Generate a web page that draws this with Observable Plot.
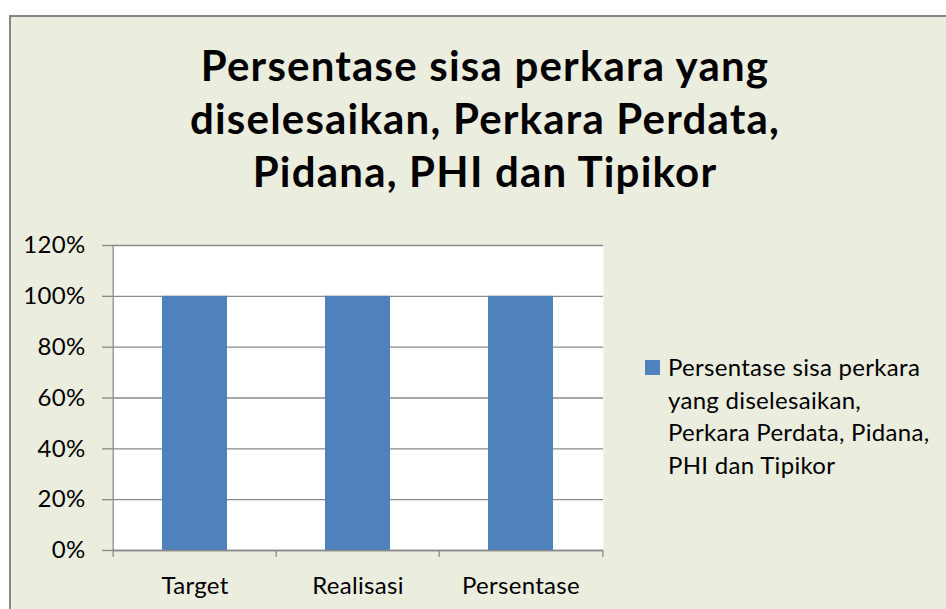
<!DOCTYPE html>
<html><head><meta charset="utf-8">
<script src="https://cdn.jsdelivr.net/npm/d3@7"></script>
<script src="https://cdn.jsdelivr.net/npm/@observablehq/plot@0.6"></script>
<style>
html,body{margin:0;padding:0;background:#fff;}
body{width:946px;height:609px;position:relative;overflow:hidden;font-family:Lato,sans-serif;color:#000;}
#box{position:absolute;left:9px;top:15px;width:960px;height:620px;background:#ebedde;border-left:2px solid #858585;border-top:2px solid #858585;}
#title{position:absolute;left:0;top:39px;width:970px;text-align:center;font-weight:700;font-size:42px;line-height:53px;letter-spacing:1.2px;}
#chart{position:absolute;left:0;top:225px;}
#legend{position:absolute;left:645px;top:351px;}
#legend .sw{position:absolute;left:0;top:9px;width:15px;height:15px;background:#4f81bd;}
#legend .tx{position:absolute;left:23px;top:0;font-size:24px;line-height:32.7px;letter-spacing:0.3px;white-space:nowrap;}
</style></head>
<body>
<div id="box"></div>
<div id="title"></div>
<div id="chart"></div>
<div id="legend"><div class="sw"></div><div class="tx"></div></div>
<script>
const titleLines = ["Persentase sisa perkara yang", "diselesaikan, Perkara Perdata,", "Pidana, PHI dan Tipikor"];
const categories = ["Target", "Realisasi", "Persentase"];
const values = [1.0, 1.0, 1.0];
const yTicks = [0, 0.2, 0.4, 0.6, 0.8, 1.0, 1.2];
const legendLines = ["Persentase sisa perkara", "yang diselesaikan,", "Perkara Perdata, Pidana,", "PHI dan Tipikor"];
const barColor = "#4f81bd";

document.getElementById("title").innerHTML = titleLines.join("<br>");
document.querySelector("#legend .sw").style.background = barColor;
document.querySelector("#legend .tx").innerHTML = legendLines.join("<br>");

const W = 620, H = 384, mL = 112, mR = 17, mT = 20, mB = 59;
const step = (W - mL - mR) / categories.length;
const data = categories.map((c, i) => ({cat: c, value: values[i]}));
const grid = "#8a8a8a";
const fmt = d => Math.round(d * 100) + "%";

const chart = Plot.plot({
  width: W, height: H,
  marginLeft: mL, marginRight: mR, marginTop: mT, marginBottom: mB,
  style: {background: "transparent", fontFamily: "Lato, sans-serif", fontSize: "24px", letterSpacing: "0.3px", color: "#000", overflow: "visible"},
  x: {domain: categories, paddingInner: 0.6, paddingOuter: 0.3, label: null, axis: null},
  y: {domain: [0, 1.2], label: null, axis: null},
  marks: [
    Plot.frame({fill: "white", stroke: "none"}),
    Plot.ruleY(yTicks, {stroke: grid, strokeWidth: 1.3}),
    Plot.barY(data, {x: "cat", y: "value", fill: barColor}),
    Plot.ruleY([0], {stroke: grid, strokeWidth: 1.3}),
    Plot.ruleX([categories[0]], {dx: -step / 2, stroke: grid, strokeWidth: 1.3}),
    Plot.axisY(yTicks, {tickSize: 10, tickPadding: 17, tickFormat: fmt, stroke: grid, strokeWidth: 1.3, fontSize: 24, label: null, fill: "#000"}),
    Plot.axisX(categories, {tickSize: 7, tickFormat: () => "", dx: -step / 2, stroke: grid, strokeWidth: 1.3, label: null}),
    Plot.axisX([categories[categories.length - 1]], {tickSize: 7, tickFormat: () => "", dx: step / 2, stroke: grid, strokeWidth: 1.3, label: null}),
    Plot.axisX(categories, {tickSize: 0, tickPadding: 26, fontSize: 24, label: null, fill: "#000"})
  ]
});
document.getElementById("chart").appendChild(chart);
</script>
</body></html>
